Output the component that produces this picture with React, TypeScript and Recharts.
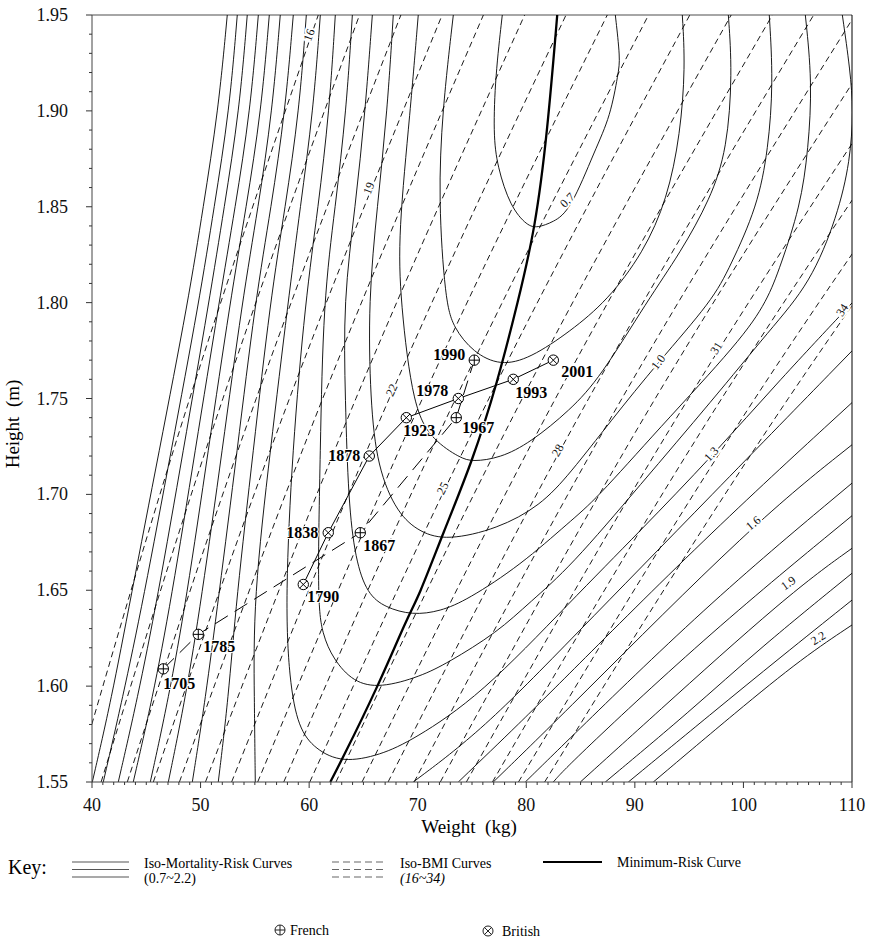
import React from 'react';
import { ComposedChart, Line, Scatter, XAxis, YAxis, ReferenceLine, ReferenceDot } from 'recharts';

type Pt = [number, number]; // [weight kg, height m]

const FONT = '"Liberation Serif", "Times New Roman", serif';

const xMajor = [40, 50, 60, 70, 80, 90, 100, 110];
const yMajor = [1.55, 1.6, 1.65, 1.7, 1.75, 1.8, 1.85, 1.9, 1.95];
const xTicks = Array.from({ length: 71 }, (_, i) => 40 + i);
const yTicks = Array.from({ length: 41 }, (_, i) => (155 + i) / 100);

// iso-mortality-risk curves (U shaped, 0.7 .. 1.3 have their bottom inside the plot)
const risk07: Pt[] = [[77.79, 1.95], [77.15, 1.918], [76.96, 1.888], [77.33, 1.871], [78.53, 1.85], [80.09, 1.84], [81.01, 1.839], [82.49, 1.842], [84.05, 1.848], [86.36, 1.88], [87.74, 1.897], [88.48, 1.92], [88.66, 1.927], [88.2, 1.95]];
const risk08: Pt[] = [[73.28, 1.95], [72.26, 1.9], [71.9, 1.854], [72.54, 1.801], [73.28, 1.787], [75.12, 1.774], [77.61, 1.767], [80.37, 1.771], [84.05, 1.785], [87.46, 1.801], [90.78, 1.826], [92.99, 1.854], [94.19, 1.888], [94.65, 1.923], [94.37, 1.95]];
const risk09: Pt[] = [[70.05, 1.95], [69.32, 1.9], [68.21, 1.836], [68.4, 1.801], [69.59, 1.744], [71.44, 1.728], [73.92, 1.719], [75.03, 1.717], [77.61, 1.719], [80.37, 1.727], [84.05, 1.744], [86.82, 1.761], [91.15, 1.801], [94.19, 1.826], [96.95, 1.854], [98.51, 1.88], [98.98, 1.92], [98.61, 1.95]];
const risk10: Pt[] = [[67.75, 1.95], [67.2, 1.9], [66.28, 1.85], [65.45, 1.801], [65.63, 1.749], [66.28, 1.714], [68.12, 1.69], [70.24, 1.68], [72.73, 1.676], [77.33, 1.682], [81.29, 1.694], [84.05, 1.711], [87.74, 1.738], [92.16, 1.769], [97.13, 1.801], [98.79, 1.819], [101.28, 1.85], [102.29, 1.88], [102.75, 1.915], [102.38, 1.95]];
const risk11: Pt[] = [[65.82, 1.95], [65.17, 1.9], [64.25, 1.85], [63.15, 1.801], [63.33, 1.749], [63.61, 1.697], [64.25, 1.666], [65.36, 1.648], [67.02, 1.641], [69.5, 1.637], [72.08, 1.639], [74.57, 1.645], [79.45, 1.663], [84.05, 1.686], [86.36, 1.697], [92.16, 1.734], [99.71, 1.78], [102.2, 1.801], [103.4, 1.819], [105.24, 1.85], [105.98, 1.88], [106.34, 1.915], [105.7, 1.95]];
const risk12: Pt[] = [[63.98, 1.95], [63.42, 1.9], [62.41, 1.85], [61.3, 1.801], [61.03, 1.723], [60.75, 1.645], [61.21, 1.627], [62.23, 1.614], [64.07, 1.602], [66.55, 1.599], [70.24, 1.605], [72.73, 1.612], [77.33, 1.628], [80.37, 1.644], [84.05, 1.662], [90.5, 1.705], [97.13, 1.749], [102.47, 1.786], [106.16, 1.81], [108.65, 1.845], [109.84, 1.874], [110.12, 1.9], [109.84, 1.921], [109.11, 1.95]];
const risk13: Pt[] = [[62.41, 1.95], [61.86, 1.9], [60.84, 1.85], [59.65, 1.801], [58.45, 1.723], [57.8, 1.645], [58.17, 1.603], [59.0, 1.578], [60.57, 1.567], [63.05, 1.56], [66.55, 1.564], [69.59, 1.572], [75.77, 1.595], [84.05, 1.644], [90.5, 1.681], [97.13, 1.72], [103.4, 1.76], [110.03, 1.8]];
// 1.4 .. 2.2: bottom of the U lies below 1.55 m, so a left and a right piece
const risk14L: Pt[] = [[61.03, 1.95], [60.38, 1.9], [59.19, 1.85], [58.08, 1.801], [56.42, 1.723], [54.86, 1.645], [54.95, 1.593], [55.04, 1.55]];
const risk14R: Pt[] = [[69.59, 1.55], [75.95, 1.577], [84.05, 1.624], [97.13, 1.7], [110.03, 1.775]];
const risk15L: Pt[] = [[59.74, 1.95], [59.09, 1.9], [57.8, 1.85], [56.42, 1.801], [54.86, 1.723], [53.29, 1.645], [52.55, 1.593], [51.63, 1.55]];
const risk15R: Pt[] = [[73.74, 1.55], [79.45, 1.581], [84.05, 1.607], [97.13, 1.681], [110.03, 1.748]];
const risk16L: Pt[] = [[58.54, 1.95], [57.8, 1.9], [56.51, 1.85], [55.04, 1.801], [53.38, 1.723], [51.63, 1.645], [50.44, 1.593], [49.24, 1.55]];
const risk16R: Pt[] = [[76.96, 1.55], [84.05, 1.589], [100.91, 1.685], [110.03, 1.726]];
const risk17L: Pt[] = [[57.34, 1.95], [56.61, 1.9], [55.32, 1.85], [53.84, 1.801], [52.0, 1.723], [50.07, 1.645], [48.59, 1.593], [47.03, 1.55]];
const risk17R: Pt[] = [[79.91, 1.55], [84.05, 1.573], [97.13, 1.645], [110.03, 1.706]];
const risk18L: Pt[] = [[56.33, 1.95], [55.59, 1.9], [54.21, 1.85], [52.74, 1.801], [50.71, 1.723], [48.69, 1.645], [47.03, 1.593], [45.37, 1.55]];
const risk18R: Pt[] = [[82.49, 1.55], [84.05, 1.56], [97.13, 1.629], [110.03, 1.689]];
const risk19L: Pt[] = [[55.32, 1.95], [54.58, 1.9], [53.2, 1.85], [51.73, 1.801], [49.51, 1.723], [47.3, 1.645], [45.55, 1.593], [43.8, 1.55]];
const risk19R: Pt[] = [[84.98, 1.55], [91.42, 1.583], [104.13, 1.648], [110.03, 1.672]];
const risk20L: Pt[] = [[54.3, 1.95], [53.57, 1.9], [52.19, 1.85], [50.8, 1.801], [48.41, 1.723], [46.01, 1.645], [44.17, 1.593], [42.42, 1.55]];
const risk20R: Pt[] = [[87.28, 1.55], [95.11, 1.587], [101.55, 1.62], [110.03, 1.659]];
const risk21L: Pt[] = [[53.38, 1.95], [52.65, 1.9], [51.26, 1.85], [49.88, 1.801], [47.3, 1.723], [44.73, 1.645], [42.79, 1.593], [41.04, 1.55]];
const risk21R: Pt[] = [[89.4, 1.55], [97.13, 1.586], [103.4, 1.615], [110.03, 1.645]];
const risk22L: Pt[] = [[52.46, 1.95], [51.63, 1.9], [50.25, 1.85], [48.87, 1.801], [46.2, 1.723], [43.53, 1.645], [41.78, 1.593], [40.03, 1.55]];
const risk22R: Pt[] = [[91.7, 1.55], [99.43, 1.587], [105.51, 1.615], [110.03, 1.632]];

const riskCurves: Pt[][] = [
  risk07, risk08, risk09, risk10, risk11, risk12, risk13,
  risk14L, risk14R, risk15L, risk15R, risk16L, risk16R, risk17L, risk17R,
  risk18L, risk18R, risk19L, risk19R, risk20L, risk20R, risk21L, risk21R, risk22L, risk22R,
];

const minimumRisk: Pt[] = [[61.95, 1.55], [62.87, 1.56], [66.28, 1.599], [69.13, 1.637], [70.05, 1.646], [72.35, 1.68], [75.02, 1.717], [77.33, 1.758], [79.26, 1.801], [80.83, 1.839], [81.93, 1.888], [82.85, 1.95]];

// iso-BMI curves: weight at heights 1.55, 1.75, 1.95 m
const bmiLevels = [16, 17, 18, 19, 20, 21, 22, 23, 24, 25, 26, 27, 28, 29, 30, 31, 32, 33, 34];
const bmiHeights = [1.55, 1.75, 1.95];
const bmiW155 = [38.44, 40.84, 43.25, 45.65, 48.05, 50.45, 52.86, 55.26, 57.66, 60.06, 62.47, 64.87, 67.27, 69.67, 72.08, 74.48, 76.88, 79.28, 81.69];
const bmiW175 = [49.0, 52.06, 55.13, 58.19, 61.25, 64.31, 67.38, 70.44, 73.5, 76.56, 79.63, 82.69, 85.75, 88.81, 91.88, 94.94, 98.0, 101.06, 104.13];
const bmiW195 = [60.84, 64.64, 68.45, 72.25, 76.05, 79.85, 83.66, 87.46, 91.26, 95.06, 98.87, 102.67, 106.47, 110.27, 114.08, 117.88, 121.68, 125.48, 129.29];

// French and British heights/weights
const frenchYears = [1705, 1785, 1867, 1967, 1990];
const frenchWeight = [46.57, 49.79, 64.71, 73.55, 75.21];
const frenchHeight = [1.609, 1.627, 1.68, 1.74, 1.77];
const britishYears = [1790, 1838, 1878, 1923, 1978, 1993, 2001];
const britishWeight = [59.46, 61.76, 65.54, 68.95, 73.74, 78.8, 82.49];
const britishHeight = [1.653, 1.68, 1.72, 1.74, 1.75, 1.76, 1.77];

// inline curve labels
const riskLabelText = ['0.7', '1.0', '1.3', '1.6', '1.9', '2.2'];
const riskLabelW = [83.78, 92.16, 97.04, 100.91, 104.13, 106.89];
const riskLabelH = [1.8535, 1.769, 1.721, 1.685, 1.6537, 1.625];
const riskLabelAngle = [-45, -52, -48, -40, -35, -32];
const bmiLabelText = ['16', '19', '22', '25', '28', '31', '34'];
const bmiLabelW = [60.0, 65.5, 67.6, 72.3, 82.9, 97.5, 109.1];
const bmiLabelH = [1.9396, 1.8597, 1.7544, 1.7032, 1.723, 1.7763, 1.7961];
const bmiLabelAngle = [-70, -68, -65, -63, -61, -58, -57];

const yearLabel: Record<number, { dx: number; dy: number; anchor: 'start' | 'end' }> = {
  1705: { dx: 0, dy: 20, anchor: 'start' },
  1785: { dx: 5, dy: 18, anchor: 'start' },
  1867: { dx: 3, dy: 18, anchor: 'start' },
  1967: { dx: 6, dy: 15, anchor: 'start' },
  1990: { dx: -9, dy: 0, anchor: 'end' },
  1790: { dx: 4, dy: 18, anchor: 'start' },
  1838: { dx: -10, dy: 5, anchor: 'end' },
  1878: { dx: -9, dy: 5, anchor: 'end' },
  1923: { dx: -3, dy: 18, anchor: 'start' },
  1978: { dx: -10, dy: -3, anchor: 'end' },
  1993: { dx: 2, dy: 19, anchor: 'start' },
  2001: { dx: 8, dy: 17, anchor: 'start' },
};

const rows = (pts: Pt[]) => pts.map(([w, h]) => ({ w, h }));

const bmiRows = bmiLevels.map((_, i) =>
  [bmiW155[i], bmiW175[i], bmiW195[i]].map((w, j) => ({ w, h: bmiHeights[j] }))
);
const frenchRows = frenchYears.map((year, i) => ({ year, w: frenchWeight[i], h: frenchHeight[i] }));
const britishRows = britishYears.map((year, i) => ({ year, w: britishWeight[i], h: britishHeight[i] }));

const XTick = (props: any) => {
  const { x, y, payload } = props;
  const v = payload.value;
  const major = v % 10 === 0;
  return (
    <g>
      <line x1={x} x2={x} y1={y} y2={y + (major ? 6 : 3)} stroke="#333" />
      {major && (
        <text x={x} y={y + 29} textAnchor="middle" fontSize={18} fontFamily={FONT} fill="#111">
          {v}
        </text>
      )}
    </g>
  );
};

const YTick = (props: any) => {
  const { x, y, payload } = props;
  const v = payload.value;
  const major = Math.round(v * 100) % 5 === 0;
  return (
    <g>
      <line x1={x - (major ? 6 : 3)} x2={x} y1={y} y2={y} stroke="#333" />
      {major && (
        <text x={x - 24} y={y + 6} textAnchor="end" fontSize={18} fontFamily={FONT} fill="#111">
          {yMajor.find((m) => Math.abs(m - v) < 1e-6)!.toFixed(2)}
        </text>
      )}
    </g>
  );
};

const Marker = (props: any & { kind: 'french' | 'british' }) => {
  const { cx, cy, payload, kind } = props;
  const r = 5.2;
  const d = r * 0.72;
  const lab = yearLabel[payload.year];
  return (
    <g>
      <circle cx={cx} cy={cy} r={r} fill="#fff" stroke="#000" strokeWidth={1} />
      {kind === 'french' ? (
        <path d={`M${cx - r} ${cy}H${cx + r}M${cx} ${cy - r}V${cy + r}`} stroke="#000" strokeWidth={1} />
      ) : (
        <path d={`M${cx - d} ${cy - d}L${cx + d} ${cy + d}M${cx - d} ${cy + d}L${cx + d} ${cy - d}`} stroke="#000" strokeWidth={1} />
      )}
      <text
        x={cx + lab.dx}
        y={cy + lab.dy}
        textAnchor={lab.anchor}
        fontSize={16}
        fontWeight="bold"
        fontFamily={FONT}
        fill="#000"
        stroke="#fff"
        strokeWidth={2}
        paintOrder="stroke"
      >
        {payload.year}
      </text>
    </g>
  );
};

const curveLabel = (text: string, angle: number) => (p: any) => (
  <text
    x={p.cx}
    y={p.cy}
    transform={`rotate(${angle} ${p.cx} ${p.cy})`}
    textAnchor="middle"
    dominantBaseline="central"
    fontSize={12}
    fontFamily={FONT}
    fill="#111"
    stroke="#fff"
    strokeWidth={4}
    paintOrder="stroke"
  >
    {text}
  </text>
);

export default function App() {
  return (
    <div style={{ position: 'absolute', left: 0, top: 0, width: 872, height: 941, background: '#fff' }}>
      <ComposedChart width={872} height={941} margin={{ top: 15, right: 20, bottom: 129, left: 0 }}>
        <XAxis
          type="number"
          dataKey="w"
          domain={[40, 110]}
          ticks={xTicks}
          interval={0}
          allowDataOverflow
          height={30}
          tickSize={0}
          tickMargin={0}
          tickLine={false}
          axisLine={{ stroke: '#444' }}
          tick={(p: any) => <XTick {...p} />}
        />
        <YAxis
          type="number"
          dataKey="h"
          domain={[1.55, 1.95]}
          ticks={yTicks}
          interval={0}
          allowDataOverflow
          width={92}
          tickSize={0}
          tickMargin={0}
          tickLine={false}
          axisLine={{ stroke: '#444' }}
          tick={(p: any) => <YTick {...p} />}
        />
        <ReferenceLine y={1.95} stroke="#888" strokeWidth={1.5} ifOverflow="visible" />
        <ReferenceLine x={110} stroke="#000" strokeWidth={1} ifOverflow="visible" />

        {bmiRows.map((data, i) => (
          <Line
            key={`bmi-${bmiLevels[i]}`}
            data={data}
            dataKey="h"
            type="natural"
            stroke="#000"
            strokeWidth={0.9}
            strokeDasharray="6 4"
            dot={false}
            activeDot={false}
            isAnimationActive={false}
          />
        ))}
        {riskCurves.map((pts, i) => (
          <Line
            key={`risk-${i}`}
            data={rows(pts)}
            dataKey="h"
            type="basis"
            stroke="#000"
            strokeWidth={0.9}
            dot={false}
            activeDot={false}
            isAnimationActive={false}
          />
        ))}
        <Line
          data={rows(minimumRisk)}
          dataKey="h"
          type="basis"
          stroke="#000"
          strokeWidth={2.3}
          dot={false}
          activeDot={false}
          isAnimationActive={false}
        />

        {riskLabelText.map((t, i) => (
          <ReferenceDot key={`rl-${t}`} x={riskLabelW[i]} y={riskLabelH[i]} r={0} ifOverflow="visible" shape={curveLabel(t, riskLabelAngle[i])} />
        ))}
        {bmiLabelText.map((t, i) => (
          <ReferenceDot key={`bl-${t}`} x={bmiLabelW[i]} y={bmiLabelH[i]} r={0} ifOverflow="visible" shape={curveLabel(t, bmiLabelAngle[i])} />
        ))}

        <Line
          data={frenchRows}
          dataKey="h"
          type="linear"
          stroke="#000"
          strokeWidth={1}
          strokeDasharray="15 8"
          dot={false}
          activeDot={false}
          isAnimationActive={false}
        />
        <Line
          data={britishRows}
          dataKey="h"
          type="linear"
          stroke="#000"
          strokeWidth={1}
          dot={false}
          activeDot={false}
          isAnimationActive={false}
        />
        <Scatter data={frenchRows} isAnimationActive={false} shape={(p: any) => <Marker {...p} kind="french" />} />
        <Scatter data={britishRows} isAnimationActive={false} shape={(p: any) => <Marker {...p} kind="british" />} />
      </ComposedChart>

      <svg
        width={872}
        height={941}
        style={{ position: 'absolute', left: 0, top: 0, pointerEvents: 'none' }}
        fontFamily={FONT}
      >
        <text x={19} y={424} transform="rotate(-90 19 424)" textAnchor="middle" fontSize={19} style={{ whiteSpace: 'pre' }}>
          {'Height  (m)'}
        </text>
        <text x={469} y={833} textAnchor="middle" fontSize={19} style={{ whiteSpace: 'pre' }}>
          {'Weight  (kg)'}
        </text>

        <text x={8} y={874} fontSize={20}>Key:</text>
        {[862, 869.5, 877].map((y) => (
          <line key={`s${y}`} x1={72} x2={129} y1={y} y2={y} stroke="#555" strokeWidth={1.2} />
        ))}
        <text x={144} y={868} fontSize={14}>Iso-Mortality-Risk Curves</text>
        <text x={144} y={883} fontSize={14}>(0.7~2.2)</text>

        {[862, 869.5, 877].map((y) => (
          <line key={`d${y}`} x1={332} x2={385} y1={y} y2={y} stroke="#666" strokeWidth={1.2} strokeDasharray="7 4" />
        ))}
        <text x={400} y={868} fontSize={14}>Iso-BMI Curves</text>
        <text x={400} y={883} fontSize={14} fontStyle="italic">(16~34)</text>

        <line x1={543} x2={602} y1={862} y2={862} stroke="#000" strokeWidth={2} />
        <text x={617} y={867} fontSize={14}>Minimum-Risk Curve</text>

        <circle cx={280} cy={930} r={5} fill="none" stroke="#222" />
        <path d="M275 930H285M280 925V935" stroke="#222" />
        <text x={290} y={935} fontSize={14}>French</text>
        <circle cx={488} cy={931} r={5} fill="none" stroke="#222" />
        <path d="M484.4 927.4L491.6 934.6M484.4 934.6L491.6 927.4" stroke="#222" />
        <text x={502} y={936} fontSize={14}>British</text>
      </svg>
    </div>
  );
}
